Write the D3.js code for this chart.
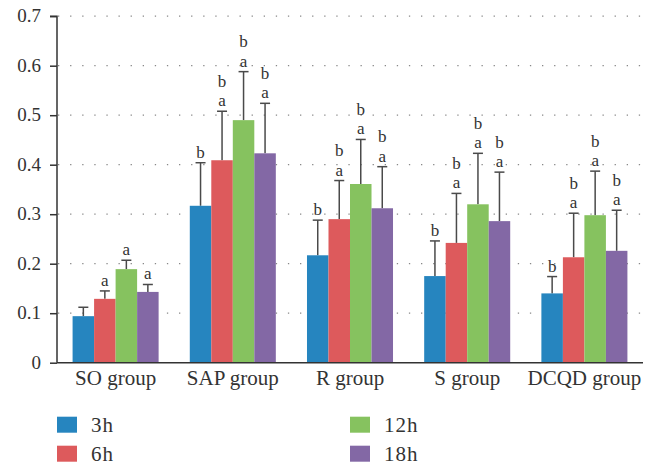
<!DOCTYPE html>
<html><head><meta charset="utf-8">
<script src="https://cdn.jsdelivr.net/npm/d3@7"></script>
<style>body{margin:0;background:#fff}svg{display:block}</style>
</head><body>
<svg id="c" width="659" height="466"></svg>
<script>
const groups = ["SO group", "SAP group", "R group", "S group", "DCQD group"];
const seriesNames = ["3h", "6h", "12h", "18h"];
const colors = ["#2685bf", "#dd5a5c", "#86c25f", "#8368a5"];
// mean values per series (rows) per group (columns)
const v3h  = [0.094, 0.317, 0.217, 0.175, 0.140];
const v6h  = [0.129, 0.409, 0.290, 0.242, 0.213];
const v12h = [0.189, 0.490, 0.361, 0.320, 0.298];
const v18h = [0.143, 0.423, 0.312, 0.286, 0.226];
// upper error bar ends
const e3h  = [0.112, 0.404, 0.288, 0.246, 0.174];
const e6h  = [0.145, 0.508, 0.368, 0.342, 0.302];
const e12h = [0.207, 0.588, 0.451, 0.423, 0.387];
const e18h = [0.158, 0.524, 0.396, 0.385, 0.308];
// significance letters (top to bottom)
const sig3h  = ["", "b", "b", "b", "b"];
const sig6h  = ["a", "ba", "ba", "ba", "ba"];
const sig12h = ["a", "ba", "ba", "ba", "ba"];
const sig18h = ["a", "ba", "ba", "ba", "ba"];
const yTicks = [0, 0.1, 0.2, 0.3, 0.4, 0.5, 0.6, 0.7];

const values = [v3h, v6h, v12h, v18h];
const errs = [e3h, e6h, e12h, e18h];
const sigs = [sig3h, sig6h, sig12h, sig18h];

const svg = d3.select("#c");
const serif = "'Liberation Serif', 'DejaVu Serif', serif";
const L = 57, R = 643, T = 16.2, B = 362.7;

const y = d3.scaleLinear().domain([0, 0.7]).range([B, T]);
const x0 = d3.scaleBand().domain(groups).range([L, R]).paddingInner(0.266).paddingOuter(0.133);
const x1 = d3.scaleBand().domain(seriesNames).range([0, x0.bandwidth()]);

// grid
svg.append("g").selectAll("line").data(yTicks.filter(d => d > 0)).join("line")
  .attr("x1", L + 1).attr("x2", R).attr("y1", d => y(d)).attr("y2", d => y(d))
  .attr("stroke", "#888").attr("stroke-width", 1.3).attr("stroke-dasharray", "1.3,10.8");

// y axis
const ya = svg.append("g").attr("transform", `translate(${L},0)`)
  .call(d3.axisLeft(y).tickValues(yTicks).tickFormat(d => d === 0 ? "0" : d3.format(".1f")(d)).tickSize(7).tickPadding(9));
ya.attr("font-family", null).attr("font-size", null);
ya.select(".domain").attr("stroke", "#333").attr("stroke-width", 1.5).attr("d", `M-7,${T}H0V${B}`);
ya.selectAll(".tick line").attr("stroke", "#333").attr("stroke-width", 1.5);
ya.selectAll(".tick text").attr("fill", "#333").attr("dy", "0.3em").style("font-family", serif).style("font-size", "19px");

// bars
const data = [];
groups.forEach((g, gi) => seriesNames.forEach((s, si) => data.push({g, s, si, v: values[si][gi], e: errs[si][gi], sig: sigs[si][gi]})));

const gBars = svg.append("g");
// error bars
gBars.selectAll("line.err").data(data).join("line").attr("class", "err")
  .attr("x1", d => x0(d.g) + x1(d.s) + x1.bandwidth() / 2).attr("x2", d => x0(d.g) + x1(d.s) + x1.bandwidth() / 2)
  .attr("y1", d => y(d.v)).attr("y2", d => y(d.e)).attr("stroke", "#4a4a4a").attr("stroke-width", 1.5);
gBars.selectAll("line.cap").data(data).join("line").attr("class", "cap")
  .attr("x1", d => x0(d.g) + x1(d.s) + x1.bandwidth() / 2 - 5).attr("x2", d => x0(d.g) + x1(d.s) + x1.bandwidth() / 2 + 5)
  .attr("y1", d => y(d.e)).attr("y2", d => y(d.e)).attr("stroke", "#4a4a4a").attr("stroke-width", 1.5);
gBars.selectAll("rect").data(data).join("rect")
  .attr("x", d => x0(d.g) + x1(d.s)).attr("width", x1.bandwidth())
  .attr("y", d => y(d.v)).attr("height", d => y(0) - y(d.v)).attr("fill", d => colors[d.si]);

// letters
data.forEach(d => {
  const letters = d.sig.split("");
  const cx = x0(d.g) + x1(d.s) + x1.bandwidth() / 2;
  letters.forEach((ch, i) => {
    const fromBottom = letters.length - 1 - i;
    svg.append("text").attr("x", cx).attr("y", y(d.e) - 5 - fromBottom * 19.5)
      .attr("text-anchor", "middle").attr("fill", "#333")
      .style("font-family", serif).style("font-size", "17px").text(ch);
  });
});

// x axis
svg.append("line").attr("x1", L).attr("x2", R).attr("y1", B).attr("y2", B).attr("stroke", "#333").attr("stroke-width", 1.5);
svg.append("g").selectAll("text").data(groups).join("text")
  .attr("x", d => x0(d) + x0.bandwidth() / 2).attr("y", 385).attr("text-anchor", "middle")
  .attr("fill", "#333").style("font-family", serif).style("font-size", "21px").text(d => d);

// legend
const legPos = [[57, 416.7], [57, 445.7], [350, 416.7], [350, 445.7]];
const lg = svg.append("g").selectAll("g").data(seriesNames).join("g")
  .attr("transform", (d, i) => `translate(${legPos[i][0]},${legPos[i][1]})`);
lg.append("rect").attr("width", 20).attr("height", 16).attr("fill", (d, i) => colors[i]);
lg.append("text").attr("x", 34).attr("y", 15).attr("fill", "#333")
  .style("font-family", serif).style("font-size", "21px").style("letter-spacing", "1px").text(d => d);
</script>
</body></html>
